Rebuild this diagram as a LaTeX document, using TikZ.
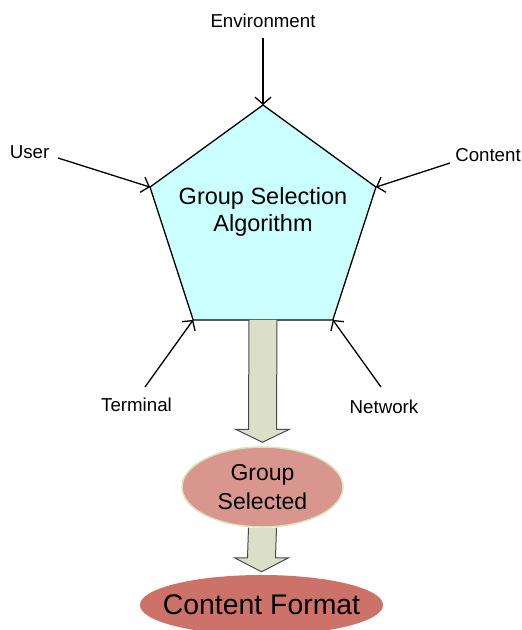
\documentclass[tikz,border=0pt]{standalone}
\usepackage{fontspec}
\setmainfont{Liberation Sans}
\usetikzlibrary{shapes.geometric,arrows.meta,calc}

\definecolor{algfill}{HTML}{CCFFFF}
\definecolor{shaftfill}{HTML}{DCDFC8}
\definecolor{shaftline}{HTML}{4A4A4A}
\definecolor{selfill}{HTML}{D9968F}
\definecolor{selline}{HTML}{D7E4BD}
\definecolor{fmtfill}{HTML}{CC7269}

\tikzset{
  inputlabel/.style={font=\fontsize{18.7}{22}\selectfont, inner sep=0pt},
  feed/.style={line width=1.3pt, -{Straight Barb[length=7pt,width=16pt,line width=1.3pt]}},
  blockarrow/.style={fill=shaftfill, draw=shaftline, line width=1pt, line join=miter},
}

\begin{document}
\begin{tikzpicture}[x=1pt,y=-1pt]
  \useasboundingbox (0,0) rectangle (522,630);

  % central pentagon
  \node[regular polygon, regular polygon sides=5, minimum size=237.6pt,
        inner sep=0pt, outer sep=0pt, draw, line width=1.3pt, fill=algfill]
        (alg) at (263,223.8) {};
  \node[font=\fontsize{23.5}{27}\selectfont, align=center, inner sep=0pt]
        (algtext) at (263,212) {Group Selection\\Algorithm};

  % input labels
  \node[inputlabel] (env)  at (263,20.5)  {Environment};
  \node[inputlabel] (user) at (29.5,152)  {User};
  \node[inputlabel] (cont) at (488,155)   {Content};
  \node[inputlabel] (term) at (136.5,405) {Terminal};
  \node[inputlabel] (net)  at (384,407)   {Network};

  \coordinate (envend)  at (263,38);
  \coordinate (userend) at (58,158);
  \coordinate (contend) at (450,163);
  \coordinate (termend) at (145,387);
  \coordinate (netend)  at (381,387);

  \draw[feed] (envend)  -- (alg.corner 1);
  \draw[feed] (userend) -- (alg.corner 2);
  \draw[feed] (contend) -- (alg.corner 5);
  \draw[feed] (termend) -- (alg.corner 3);
  \draw[feed] (netend)  -- (alg.corner 4);

  % result nodes
  \node[ellipse, minimum width=161pt, minimum height=80pt, inner sep=0pt,
        fill=selfill, draw=selline, line width=1.5pt, align=center,
        font=\fontsize{23}{29}\selectfont]
        (sel) at (262.5,487) {Group\\Selected};
  \node[ellipse, minimum width=243pt, minimum height=60pt, inner xsep=-12.7pt,
        inner ysep=0pt, fill=fmtfill, font=\fontsize{28.4}{32}\selectfont]
        (fmt) at (261.5,605) {Content Format};

  % block arrows
  \path[blockarrow] ([xshift=-14pt]alg.south)
      -- ([xshift=-14pt,yshift=17pt]sel.north)
      -- ([xshift=-27pt,yshift=17pt]sel.north)
      -- ([yshift=4pt]sel.north)
      -- ([xshift=27pt,yshift=17pt]sel.north)
      -- ([xshift=14pt,yshift=17pt]sel.north)
      -- ([xshift=14pt]alg.south);
  \path[blockarrow] ([xshift=-14pt]sel.south)
      -- ([xshift=-14pt,yshift=17pt]fmt.north)
      -- ([xshift=-27pt,yshift=17pt]fmt.north)
      -- ([yshift=3pt]fmt.north)
      -- ([xshift=27pt,yshift=17pt]fmt.north)
      -- ([xshift=14pt,yshift=17pt]fmt.north)
      -- ([xshift=14pt]sel.south);
\end{tikzpicture}
\end{document}
